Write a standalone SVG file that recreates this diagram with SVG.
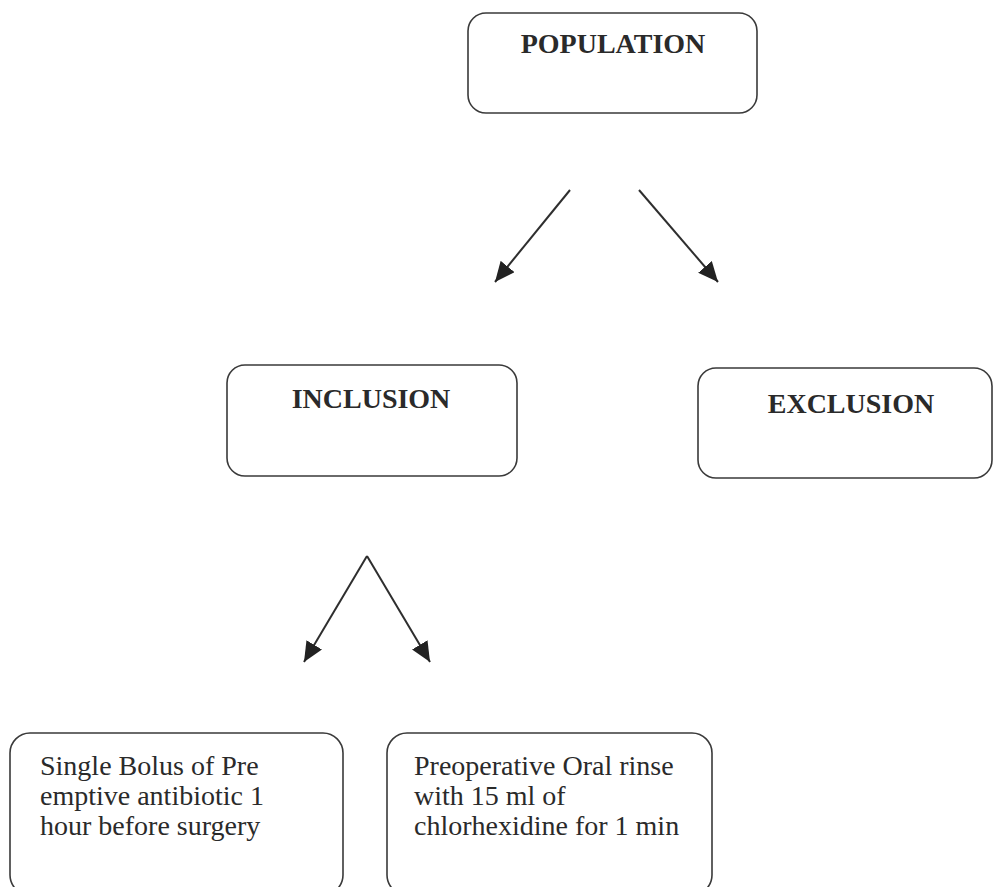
<svg xmlns="http://www.w3.org/2000/svg" width="993" height="887" viewBox="0 0 993 887">
<style>
.box{fill:#fff;stroke:#3a3a3a;stroke-width:1.6}
.hd{font-family:"Liberation Serif",serif;font-weight:bold;font-size:28px;fill:#2a2a2a;text-anchor:middle}
.tx{font-family:"Liberation Serif",serif;font-size:28px;fill:#2a2a2a}
.ln{stroke:#2e2e2e;stroke-width:2;fill:none;marker-end:url(#ah)}
</style>
<defs>
<marker id="ah" markerUnits="userSpaceOnUse" markerWidth="22" markerHeight="18" refX="20" refY="9" orient="auto">
<path d="M0,0 L20,9 L0,18 Z" fill="#222"/>
</marker>
</defs>
<rect width="993" height="887" fill="#fff"/>
<g id="population">
<rect class="box" x="468" y="13" width="289" height="100" rx="18"/>
<text class="hd" x="613" y="53">POPULATION</text>
</g>
<g id="inclusion">
<rect class="box" x="227" y="365" width="290" height="111" rx="18"/>
<text class="hd" x="371" y="408">INCLUSION</text>
</g>
<g id="exclusion">
<rect class="box" x="698" y="368" width="294" height="110" rx="18"/>
<text class="hd" x="851" y="413">EXCLUSION</text>
</g>
<g id="bolus">
<rect class="box" x="10" y="733" width="333" height="162" rx="20"/>
<text class="tx" x="40" y="775">Single Bolus of Pre</text>
<text class="tx" x="40" y="805">emptive antibiotic 1</text>
<text class="tx" x="40" y="835">hour before surgery</text>
</g>
<g id="rinse">
<rect class="box" x="387" y="733" width="325" height="162" rx="20"/>
<text class="tx" x="414" y="775">Preoperative Oral rinse</text>
<text class="tx" x="414" y="805">with 15 ml of</text>
<text class="tx" x="414" y="835">chlorhexidine for 1 min</text>
</g>
<g id="connectors">
<line class="ln" x1="570" y1="190" x2="495" y2="282"/>
<line class="ln" x1="639" y1="190" x2="718" y2="282"/>
<line class="ln" x1="367" y1="556" x2="304" y2="662"/>
<line class="ln" x1="367" y1="556" x2="430" y2="662"/>
</g>
</svg>
